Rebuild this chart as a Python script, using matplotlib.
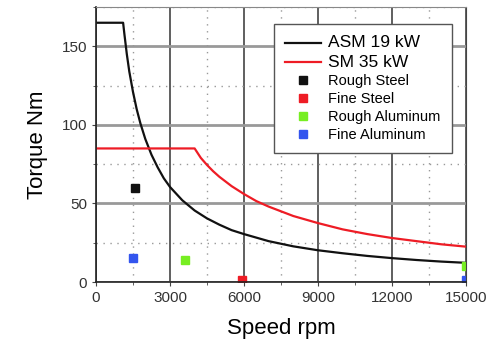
import matplotlib
matplotlib.use("Agg")
import matplotlib.pyplot as plt
from matplotlib.lines import Line2D
from matplotlib.ticker import MultipleLocator

plt.rcParams['font.family'] = ['Liberation Sans', 'DejaVu Sans']

asm_speed = [0, 1100, 1150, 1250, 1350, 1500, 1650, 1800, 2000, 2250, 2500, 2750, 3000,
             3500, 4000, 4500, 5000, 5500, 6000, 7000, 8000, 9000, 10000, 11000, 12000,
             13000, 14000, 15000]
asm_torque = [165, 165, 158, 145, 134, 121, 110, 101, 91, 81, 73, 66, 60.5,
              52, 45.5, 40.5, 36.5, 33, 30.5, 26, 22.7, 20.2, 18.3, 16.6, 15.2,
              14, 13, 12.2]
sm_speed = [0, 4000, 4250, 4500, 4750, 5000, 5500, 6000, 6500, 7000, 7500, 8000, 9000,
            10000, 11000, 12000, 13000, 14000, 15000]
sm_torque = [85, 85, 79, 74.5, 70.5, 67, 61, 56, 51.5, 48, 45, 42, 37.5,
             33.5, 30.5, 28, 26, 24, 22.5]

rough_steel = ([1600], [60])
fine_steel = ([5900], [1])
rough_alu = ([3600, 15000], [14, 10.5])
fine_alu = ([1500, 15000], [15, 1.5])

fig = plt.figure(figsize=(5.01, 3.45), dpi=100)
ax = fig.add_axes([0.1916, 0.1826, 0.7384, 0.797])

ax.set_xlim(0, 15000)
ax.set_ylim(0, 175)
ax.xaxis.set_major_locator(MultipleLocator(3000))
ax.xaxis.set_minor_locator(MultipleLocator(1500))
ax.yaxis.set_major_locator(MultipleLocator(50))
ax.yaxis.set_minor_locator(MultipleLocator(25))

ax.grid(which='major', axis='x', color='#444444', lw=1.2)
ax.grid(which='major', axis='y', color='#999999', lw=2)
ax.grid(which='minor', color='#999999', lw=1, ls=(0, (1, 4)))
ax.set_axisbelow(True)

for s in ['left', 'bottom']:
    ax.spines[s].set_color('#222222')
    ax.spines[s].set_linewidth(1.2)
ax.spines['top'].set_color('#888888')
ax.spines['right'].set_color('#444444')

ax.tick_params(which='both', direction='out', length=3, color='#444444', labelsize=11,
               labelcolor='#333333')
ax.tick_params(which='minor', length=2)

ax.plot(asm_speed, asm_torque, color='#111111', lw=1.6)
ax.plot(sm_speed, sm_torque, color='#ee1c25', lw=1.6)

ms = 6
ax.plot(*rough_steel, 's', color='#111111', ms=ms)
ax.plot(*fine_steel, 's', color='#ee1c25', ms=ms)
ax.plot(*rough_alu, 's', color='#77ee22', ms=ms)
ax.plot(*fine_alu, 's', color='#3355ee', ms=ms)

ax.set_xlabel('Speed rpm', fontsize=16, labelpad=9)
ax.set_ylabel('Torque Nm', fontsize=16, labelpad=10)

handles = [
    Line2D([], [], color='#111111', lw=1.6),
    Line2D([], [], color='#ee1c25', lw=1.6),
    Line2D([], [], marker='s', ls='', color='#111111', ms=6),
    Line2D([], [], marker='s', ls='', color='#ee1c25', ms=6),
    Line2D([], [], marker='s', ls='', color='#77ee22', ms=6),
    Line2D([], [], marker='s', ls='', color='#3355ee', ms=6),
]
labels = ['ASM 19 kW', 'SM 35 kW', 'Rough Steel', 'Fine Steel', 'Rough Aluminum', 'Fine Aluminum']
leg = ax.legend(handles, labels, loc='upper right', bbox_to_anchor=(0.962, 0.937),
                fancybox=False, framealpha=1, edgecolor='#555555', fontsize=10,
                handlelength=2.6, labelspacing=0.3, borderpad=0.8, handletextpad=0.5,
                borderaxespad=0)
leg.get_frame().set_linewidth(1)
for i, t in enumerate(leg.get_texts()):
    t.set_fontsize(12.5 if i < 2 else 10.5)

fig.savefig('out.png', dpi=100)
